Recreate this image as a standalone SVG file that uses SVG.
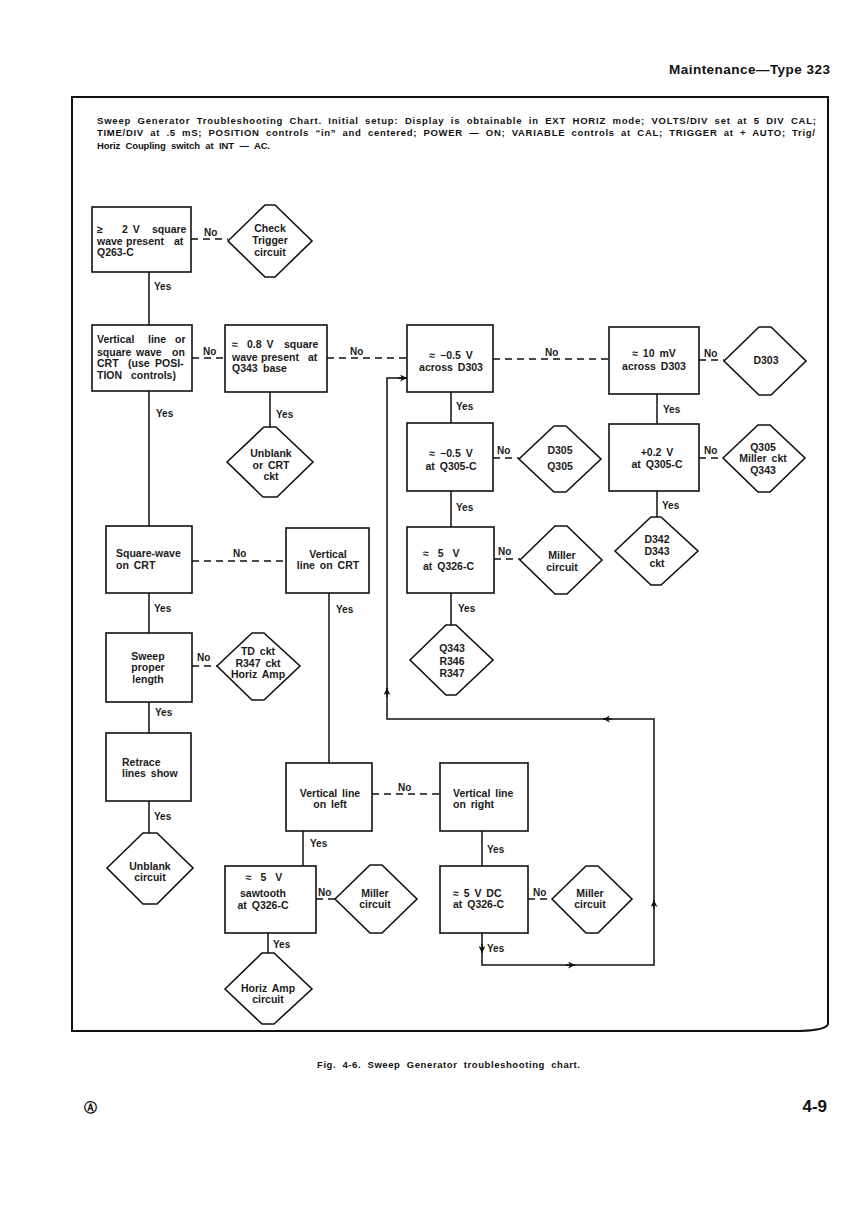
<svg xmlns="http://www.w3.org/2000/svg" width="865" height="1224" viewBox="0 0 865 1224">
<style>
.bx{fill:#fff;stroke:#111;stroke-width:1.6}
.t{font-family:"Liberation Sans",Arial,sans-serif;font-weight:bold;font-size:10.5px;fill:#1a1a1a;word-spacing:2px}
.c{text-anchor:middle}
.lb{font-family:"Liberation Sans",Arial,sans-serif;font-weight:bold;font-size:10px;fill:#1a1a1a}
.ln{stroke:#111;stroke-width:1.5;fill:none}
.ds{stroke:#111;stroke-width:1.5;fill:none;stroke-dasharray:7 5}
.ar{stroke:#111;stroke-width:1.5;fill:none;marker-end:url(#arr)}
.hd{font-family:"Liberation Sans",Arial,sans-serif;font-weight:bold;fill:#111}
</style>
<defs>
<marker id="arr" viewBox="0 0 10 10" refX="10" refY="5" markerWidth="10" markerHeight="7" markerUnits="userSpaceOnUse" orient="auto">
<path d="M0,0 L10,5 L0,10 L3,5 Z" fill="#111"/>
</marker>
</defs>
<rect width="865" height="1224" fill="#fff"/>
<text class="hd" x="669" y="74" font-size="13.5" textLength="161" lengthAdjust="spacing">Maintenance—Type 323</text>
<path d="M72,97 H828 V1024 Q827,1030 800,1031 H72 Z" fill="none" stroke="#111" stroke-width="2"/>
<g id="intro" class="hd" font-size="9.5" style="word-spacing:3px">
<text x="97" y="124" textLength="719" lengthAdjust="spacing">Sweep Generator Troubleshooting Chart. Initial setup:    Display  is obtainable in EXT HORIZ mode; VOLTS/DIV set at 5 DIV CAL;</text>
<text x="97" y="136" textLength="718" lengthAdjust="spacing">TIME/DIV at .5 mS; POSITION controls “in” and centered; POWER — ON; VARIABLE controls at CAL; TRIGGER at + AUTO; Trig/</text>
<text x="97" y="149" textLength="173" lengthAdjust="spacing">Horiz Coupling switch at INT — AC.</text>
</g>
<g id="connectors">
<path class="ln" d="M149,272 V325 M149,391 V526 M149,593 V633 M149,702 V733 M149,801 V833 M270,392 V427 M329,593 V763 M303,831 V866 M268,933 V953 M482,831 V866 M451,392 V423 M451,491 V527 M451,593 V625 M657,394 V424 M657,491 V517"/>
<path class="ln" d="M482,933 V965 H654 V719 H387 V378 H407"/>
<path class="ar" d="M482,944 V953"/>
<path class="ar" d="M566,965 H575"/>
<path class="ar" d="M654,909 V900"/>
<path class="ar" d="M612,719 H603"/>
<path class="ar" d="M387,697 V688"/>
<path class="ar" d="M398,378 H407"/>
<path class="ds" d="M191,239 H228 M192,358 H225 M327,358 H407 M493,359 H609 M699,360 H724 M493,458 H519 M699,458 H723 M494,559 H520 M192,561 H286 M192,666 H217 M372,794 H440 M316,899 H335 M528,899 H552"/>
<g class="lb">
<text x="204" y="236">No</text><text x="154" y="290">Yes</text>
<text x="203" y="355">No</text><text x="350" y="355">No</text>
<text x="156" y="417">Yes</text><text x="276" y="418">Yes</text>
<text x="545" y="356">No</text><text x="704" y="357">No</text>
<text x="456" y="410">Yes</text><text x="663" y="413">Yes</text>
<text x="497" y="454">No</text><text x="704" y="454">No</text>
<text x="456" y="511">Yes</text><text x="662" y="509">Yes</text>
<text x="498" y="555">No</text><text x="458" y="612">Yes</text>
<text x="233" y="557">No</text><text x="154" y="612">Yes</text>
<text x="336" y="613">Yes</text><text x="197" y="661">No</text>
<text x="155" y="716">Yes</text><text x="154" y="820">Yes</text>
<text x="398" y="791">No</text><text x="310" y="847">Yes</text>
<text x="487" y="853">Yes</text><text x="318" y="896">No</text>
<text x="533" y="896">No</text><text x="273" y="948">Yes</text>
<text x="487" y="952">Yes</text>
</g>
</g>
<g id="n_q263">
<rect class="bx" x="92" y="207" width="99" height="65"/>
<text class="t" y="233"><tspan x="97">≥</tspan><tspan x="122">2 V</tspan><tspan x="152">square</tspan></text>
<text class="t" y="244.5"><tspan x="97">wave</tspan><tspan x="126">present</tspan><tspan x="174">at</tspan></text>
<text class="t" x="97" y="256">Q263-C</text>
</g>
<g id="n_trigger">
<polygon class="bx" points="228,241 265,205 275,205 312,241 275,277 265,277"/>
<text class="t c" x="270" y="232">Check</text><text class="t c" x="270" y="244">Trigger</text><text class="t c" x="270" y="256">circuit</text>
</g>
<g id="n_vline">
<rect class="bx" x="92" y="325" width="100" height="66"/>
<text class="t" y="343"><tspan x="97">Vertical</tspan><tspan x="148">line</tspan><tspan x="175">or</tspan></text>
<text class="t" y="355.5"><tspan x="97">square</tspan><tspan x="136">wave</tspan><tspan x="172">on</tspan></text>
<text class="t" y="367"><tspan x="97">CRT</tspan><tspan x="128">(use</tspan><tspan x="155">POSI-</tspan></text>
<text class="t" y="379"><tspan x="97">TION</tspan><tspan x="131">controls)</tspan></text>
</g>
<g id="n_08v">
<rect class="bx" x="225" y="325" width="102" height="67"/>
<text class="t" y="348"><tspan x="232">≈</tspan><tspan x="247">0.8 V</tspan><tspan x="284">square</tspan></text>
<text class="t" y="361"><tspan x="232">wave</tspan><tspan x="261">present</tspan><tspan x="308">at</tspan></text>
<text class="t" y="372"><tspan x="232">Q343</tspan><tspan x="263">base</tspan></text>
</g>
<g id="n_unblank_crt">
<polygon class="bx" points="227,462 264,427 276,427 313,462 277,497 263,497"/>
<text class="t c" x="271" y="457">Unblank</text><text class="t c" x="271" y="469">or CRT</text><text class="t c" x="271" y="480">ckt</text>
</g>
<g id="n_d303a">
<rect class="bx" x="407" y="325" width="86" height="67"/>
<text class="t c" x="451" y="359">≈ −0.5 V</text><text class="t c" x="451" y="371">across D303</text>
</g>
<g id="n_10mv">
<rect class="bx" x="609" y="327" width="90" height="67"/>
<text class="t c" x="654" y="357">≈ 10 mV</text><text class="t c" x="654" y="370">across D303</text>
</g>
<g id="n_d303">
<polygon class="bx" points="724,361 759,327 771,327 806,361 771,395 759,395"/>
<text class="t c" x="766" y="364">D303</text>
</g>
<g id="n_q305c">
<rect class="bx" x="407" y="423" width="86" height="68"/>
<text class="t c" x="451" y="457">≈ −0.5 V</text><text class="t c" x="451" y="470">at Q305-C</text>
</g>
<g id="n_d305">
<polygon class="bx" points="519,459 554,426 566,426 601,459 566,492 554,492"/>
<text class="t c" x="560" y="454">D305</text><text class="t c" x="560" y="470">Q305</text>
</g>
<g id="n_02v">
<rect class="bx" x="609" y="424" width="90" height="67"/>
<text class="t c" x="657" y="456">+0.2 V</text><text class="t c" x="657" y="468">at Q305-C</text>
</g>
<g id="n_q305">
<polygon class="bx" points="723,458 758,425 770,425 805,458 770,492 758,492"/>
<text class="t c" x="763" y="451">Q305</text><text class="t c" x="763" y="462">Miller ckt</text><text class="t c" x="763" y="474">Q343</text>
</g>
<g id="n_5v">
<rect class="bx" x="407" y="527" width="87" height="66"/>
<text class="t" x="423" y="557" style="word-spacing:6px">≈ 5 V</text><text class="t" x="423" y="570">at Q326-C</text>
</g>
<g id="n_miller1">
<polygon class="bx" points="520,560 555,526 567,526 602,560 567,594 555,594"/>
<text class="t c" x="562" y="559">Miller</text><text class="t c" x="562" y="571">circuit</text>
</g>
<g id="n_q343">
<polygon class="bx" points="410,660 446,625 456,625 493,660 456,695 446,695"/>
<text class="t c" x="452" y="652">Q343</text><text class="t c" x="452" y="665">R346</text><text class="t c" x="452" y="677">R347</text>
</g>
<g id="n_d342">
<polygon class="bx" points="615,551 651,517 661,517 698,551 661,585 651,585"/>
<text class="t c" x="657" y="543">D342</text><text class="t c" x="657" y="555">D343</text><text class="t c" x="657" y="567">ckt</text>
</g>
<g id="n_square">
<rect class="bx" x="106" y="526" width="86" height="67"/>
<text class="t" x="116" y="557">Square-wave</text><text class="t" x="116" y="569">on CRT</text>
</g>
<g id="n_vcrt">
<rect class="bx" x="286" y="528" width="83" height="65"/>
<text class="t c" x="328" y="558">Vertical</text><text class="t c" x="328" y="569">line on CRT</text>
</g>
<g id="n_sweep">
<rect class="bx" x="106" y="633" width="86" height="69"/>
<text class="t c" x="148" y="660">Sweep</text><text class="t c" x="148" y="671">proper</text><text class="t c" x="148" y="683">length</text>
</g>
<g id="n_td">
<polygon class="bx" points="217,666 252,633 264,633 300,666 264,700 252,700"/>
<text class="t c" x="258" y="655">TD ckt</text><text class="t c" x="258" y="667">R347 ckt</text><text class="t c" x="258" y="678">Horiz Amp</text>
</g>
<g id="n_retrace">
<rect class="bx" x="106" y="733" width="85" height="68"/>
<text class="t" x="122" y="766">Retrace</text><text class="t" x="122" y="777">lines show</text>
</g>
<g id="n_unblank">
<polygon class="bx" points="107,868 143,833 157,833 193,868 157,904 143,904"/>
<text class="t c" x="150" y="870">Unblank</text><text class="t c" x="150" y="881">circuit</text>
</g>
<g id="n_left">
<rect class="bx" x="286" y="763" width="86" height="68"/>
<text class="t c" x="330" y="797">Vertical line</text><text class="t c" x="330" y="808">on left</text>
</g>
<g id="n_right">
<rect class="bx" x="440" y="763" width="88" height="68"/>
<text class="t" x="453" y="797">Vertical line</text><text class="t" x="453" y="808">on right</text>
</g>
<g id="n_saw">
<rect class="bx" x="225" y="866" width="91" height="67"/>
<text class="t c" x="264" y="881" style="word-spacing:6px">≈ 5 V</text><text class="t c" x="263" y="897">sawtooth</text><text class="t c" x="263" y="909">at Q326-C</text>
</g>
<g id="n_miller2">
<polygon class="bx" points="335,899 370,865 382,865 417,899 382,933 370,933"/>
<text class="t c" x="375" y="897">Miller</text><text class="t c" x="375" y="908">circuit</text>
</g>
<g id="n_horiz">
<polygon class="bx" points="225,989 262,953 274,953 312,989 274,1024 262,1024"/>
<text class="t c" x="268" y="992">Horiz Amp</text><text class="t c" x="268" y="1003">circuit</text>
</g>
<g id="n_5vdc">
<rect class="bx" x="440" y="866" width="88" height="67"/>
<text class="t" x="453" y="897">≈ 5 V DC</text><text class="t" x="453" y="908">at Q326-C</text>
</g>
<g id="n_miller3">
<polygon class="bx" points="552,899 586,866 598,866 632,899 598,933 586,933"/>
<text class="t c" x="590" y="897">Miller</text><text class="t c" x="590" y="908">circuit</text>
</g>
<text class="hd" x="317" y="1068" font-size="9.5" textLength="263" lengthAdjust="spacing" style="word-spacing:3px">Fig. 4-6. Sweep Generator troubleshooting chart.</text>
<text class="hd" x="90" y="1112" font-size="13" text-anchor="middle">Ⓐ</text>
<text class="hd" x="827" y="1112" font-size="17" text-anchor="end">4-9</text>
</svg>
